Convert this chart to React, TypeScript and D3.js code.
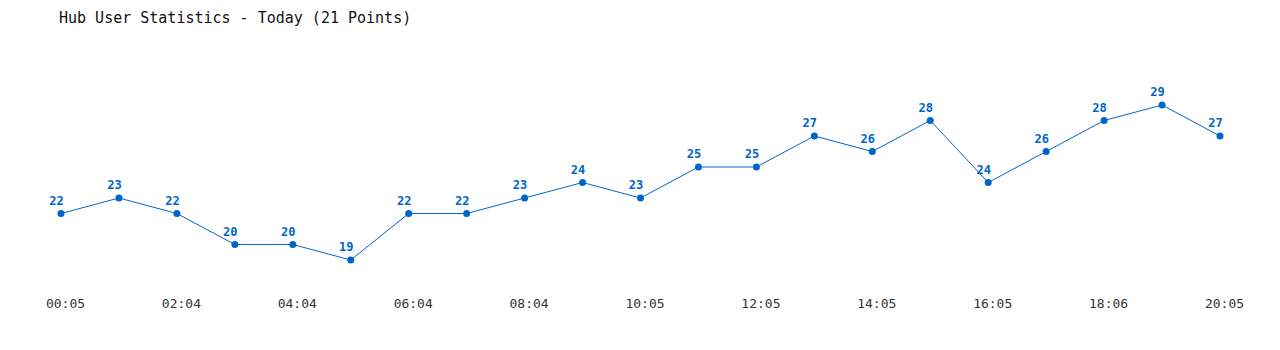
import React from "react";
import * as d3 from "d3";

const values: number[] = [22, 23, 22, 20, 20, 19, 22, 22, 23, 24, 23, 25, 25, 27, 26, 28, 24, 26, 28, 29, 27];
const tickIndices: number[] = [0, 2, 4, 6, 8, 10, 12, 14, 16, 18, 20];
const tickLabels: string[] = ["00:05", "02:04", "04:04", "06:04", "08:04", "10:05", "12:05", "14:05", "16:05", "18:06", "20:05"];
const title = "Hub User Statistics - Today (21 Points)";

const W = 1280;
const H = 350;
const BLUE = "#0066cc";
const FONT = "'DejaVu Sans Mono', 'Liberation Mono', monospace";

export default function App() {
  const x = d3.scaleLinear().domain([0, values.length - 1]).range([61, 1220]);
  const y = d3.scaleLinear().domain([19, 29]).range([260, 105]);
  const line = d3
    .line<number>()
    .x((_, i) => x(i))
    .y((d) => y(d));

  return (
    <svg
      width={W}
      height={H}
      style={{ position: "absolute", left: 0, top: 0, background: "#fff" }}
    >
      <rect x={0} y={0} width={W} height={H} fill="#fff" />
      <text x={59} y={23} fontFamily={FONT} fontSize={15} fill="#111">
        {title}
      </text>
      <path d={line(values) || ""} fill="none" stroke={BLUE} strokeWidth={1} />
      {values.map((v, i) => (
        <g key={i}>
          <circle cx={x(i)} cy={y(v)} r={3.5} fill={BLUE} />
          <text
            x={x(i) - 4.5}
            y={y(v) - 9}
            textAnchor="middle"
            fontFamily={FONT}
            fontSize={12}
            fontWeight="bold"
            fill={BLUE}
          >
            {v}
          </text>
        </g>
      ))}
      {tickIndices.map((idx, k) => (
        <text
          key={k}
          x={x(idx) + 4.5}
          y={308}
          textAnchor="middle"
          fontFamily={FONT}
          fontSize={13}
          fill="#333"
        >
          {tickLabels[k]}
        </text>
      ))}
    </svg>
  );
}
